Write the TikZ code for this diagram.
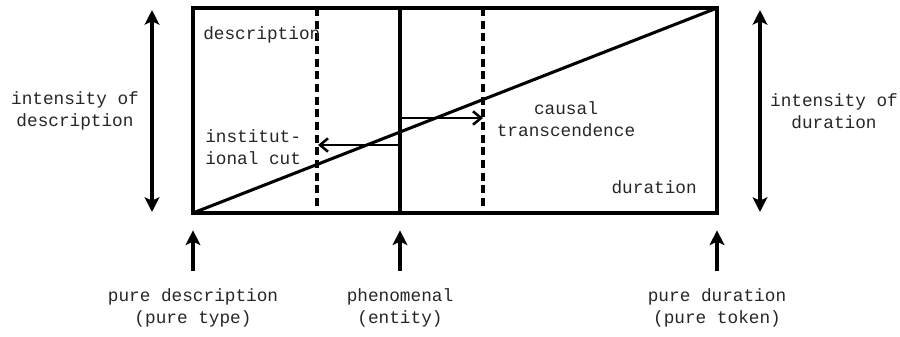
\documentclass[tikz,border=0pt]{standalone}
\usepackage{fontspec}
\setmonofont{Liberation Mono}
\usepackage{xcolor}
\definecolor{cInk}{HTML}{000000}
\definecolor{cText}{HTML}{262626}
\usetikzlibrary{positioning,arrows.meta}
\tikzset{
  frame-line/.style={draw=cInk,line width=2.3pt},
  slope-line/.style={draw=cInk,line width=2.3pt},
  cut-line/.style={draw=cInk,line width=2.3pt,dash pattern=on 6pt off 3.5pt},
  arrow-span/.style={{Stealth[length=11pt,width=11pt,inset=2.5pt]}-{Stealth[length=11pt,width=11pt,inset=2.5pt]},line width=2.3pt,draw=cInk},
  arrow-up/.style={-{Stealth[length=11pt,width=11pt,inset=2.5pt]},line width=2.3pt,draw=cInk},
  arrow-shift/.style={-{Straight Barb[length=6pt,width=10pt]},line width=1.9pt,draw=cInk},
  label-text/.style={font=\ttfamily\fontsize{13.3}{16.5}\selectfont,text=cText,inner sep=0pt,align=center},
}

\begin{document}
\begin{tikzpicture}[x=0.75pt,y=-0.75pt]
  \useasboundingbox (0,0) rectangle (900,336);
  % frame corners and cuts
  \coordinate (bl) at (193,213);
  \coordinate (br) at (717,213);
  \coordinate (tl) at (193,8);
  \coordinate (tr) at (717,8);
  \coordinate (mid-b) at (400,213);
  \coordinate (mid-t) at (400,8);
  \coordinate (cut-l-b) at (317,213);
  \coordinate (cut-l-t) at (317,8);
  \coordinate (cut-r-b) at (483,213);
  \coordinate (cut-r-t) at (483,8);
  \draw[cut-line] (cut-l-t) -- (cut-l-b);
  \draw[cut-line] (cut-r-t) -- (cut-r-b);
  \draw[frame-line] (mid-t) -- (mid-b);
  \draw[slope-line] (bl) -- (tr);
  \draw[frame-line] (bl) rectangle (tr);
  % shifts from the phenomenal line
  \coordinate (shift-l-a) at (400,145);
  \coordinate (shift-l-b) at (318,145);
  \coordinate (shift-r-a) at (400,118);
  \coordinate (shift-r-b) at (483,118);
  \draw[arrow-shift] (shift-l-a) -- (shift-l-b);
  \draw[arrow-shift] (shift-r-a) -- (shift-r-b);
  % intensity spans
  \coordinate (span-l-t) at (152,10);
  \coordinate (span-l-b) at (152,212);
  \coordinate (span-r-t) at (760,10);
  \coordinate (span-r-b) at (760,212);
  \draw[arrow-span] (span-l-t) -- (span-l-b);
  \draw[arrow-span] (span-r-t) -- (span-r-b);
  % pointers from below
  \coordinate (foot-l) at (193,271);
  \coordinate (foot-m) at (400,271);
  \coordinate (foot-r) at (717,271);
  \draw[arrow-up] (foot-l) -- ([yshift=-13pt]bl);
  \draw[arrow-up] (foot-m) -- ([yshift=-13pt]mid-b);
  \draw[arrow-up] (foot-r) -- ([yshift=-13pt]br);
  % labels
  \node[label-text,anchor=west] (desc) at (203,35) {description};
  \node[label-text,anchor=east] (dur) at (697,187) {duration};
  \node[label-text,align=left,anchor=west] (inst) at (205,147) {institut-\\ional cut};
  \node[label-text] (causal) at (566,119) {causal\\transcendence};
  \node[label-text] (int-desc) at (75,111) {intensity of\\description};
  \node[label-text] (int-dur) at (834,111) {intensity of\\duration};
  \node[label-text] (pure-desc) at (193,308) {pure description\\(pure type)};
  \node[label-text] (phen) at (400,308) {phenomenal\\(entity)};
  \node[label-text] (pure-dur) at (717,308) {pure duration\\(pure token)};
\end{tikzpicture}
\end{document}
